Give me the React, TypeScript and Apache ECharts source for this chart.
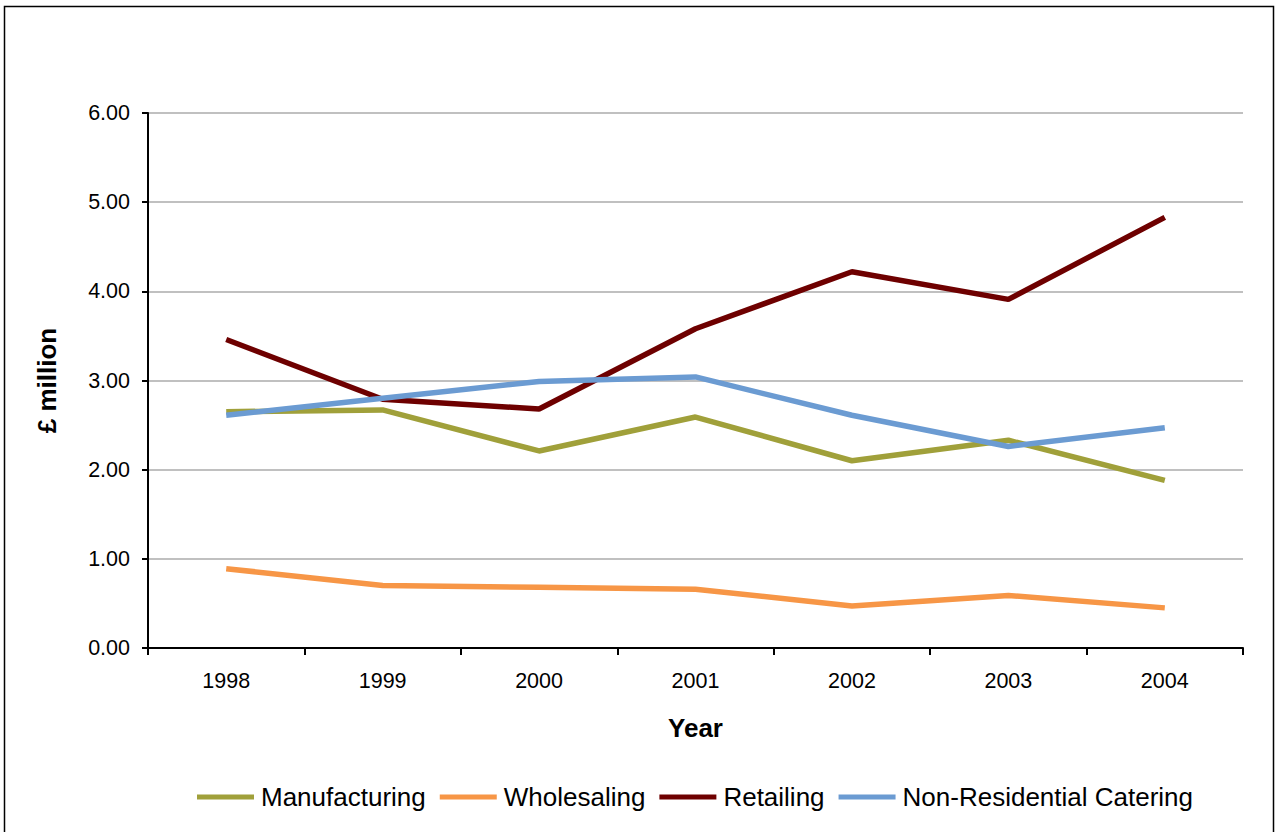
import React, { useEffect, useRef } from "react";
import * as echarts from "echarts";

const years = ["1998", "1999", "2000", "2001", "2002", "2003", "2004"];
const manufacturing = [2.65, 2.67, 2.21, 2.59, 2.10, 2.33, 1.88];
const wholesaling = [0.89, 0.70, 0.68, 0.66, 0.47, 0.59, 0.45];
const retailing = [3.46, 2.79, 2.68, 3.58, 4.22, 3.91, 4.83];
const nonResidential = [2.61, 2.80, 2.99, 3.04, 2.61, 2.26, 2.47];
const seriesNames = ["Manufacturing", "Wholesaling", "Retailing", "Non-Residential Catering"];
const seriesColors = ["#a0a03a", "#f79646", "#6e0000", "#6b9bd2"];

export default function App() {
  const ref = useRef<HTMLDivElement>(null);
  useEffect(() => {
    if (!ref.current) return;
    const chart = echarts.init(ref.current, undefined, { renderer: "svg" });
    const font = "Liberation Sans, Arial, sans-serif";
    const data = [manufacturing, wholesaling, retailing, nonResidential];
    chart.setOption({
      animation: false,
      backgroundColor: "#ffffff",
      textStyle: { fontFamily: font },
      graphic: [
        {
          type: "rect",
          shape: { x: 4.5, y: 6.5, width: 1269, height: 840 },
          style: { fill: "none", stroke: "#000000", lineWidth: 1.5 },
          silent: true,
        },
      ],
      grid: { left: 148, right: 35, top: 113, bottom: 184, containLabel: false },
      legend: {
        left: 197,
        top: 784,
        padding: 0,
        icon: "rect",
        itemWidth: 57,
        itemHeight: 5,
        itemGap: 14,
        textStyle: { fontSize: 26, color: "#000000", fontFamily: font, padding: [0, 0, 0, 2] },
        data: seriesNames,
      },
      xAxis: {
        type: "category",
        data: years,
        boundaryGap: true,
        name: "Year",
        nameLocation: "middle",
        nameGap: 67,
        nameTextStyle: { fontSize: 26, fontWeight: "bold", color: "#000000", fontFamily: font },
        axisLine: { lineStyle: { color: "#000000", width: 2 } },
        axisTick: { show: true, length: 7, inside: false, lineStyle: { color: "#000000", width: 2 } },
        axisLabel: { fontSize: 21.5, color: "#000000", margin: 22, fontFamily: font },
        splitLine: { show: false },
      },
      yAxis: {
        type: "value",
        min: 0,
        max: 6,
        interval: 1,
        name: "£ million",
        nameLocation: "middle",
        nameGap: 88,
        nameRotate: 90,
        nameTextStyle: { fontSize: 26, fontWeight: "bold", color: "#000000", fontFamily: font },
        axisLine: { show: true, lineStyle: { color: "#000000", width: 2 } },
        axisTick: { show: true, length: 6, lineStyle: { color: "#000000", width: 2 } },
        axisLabel: {
          fontSize: 21.5,
          color: "#000000",
          margin: 18,
          fontFamily: font,
          formatter: (v: number) => v.toFixed(2),
        },
        splitLine: { show: true, lineStyle: { color: "#c0c0c0", width: 2 } },
      },
      series: seriesNames.map((name, i) => ({
        name,
        type: "line",
        data: data[i],
        symbol: "none",
        showSymbol: false,
        color: seriesColors[i],
        lineStyle: { width: 5.5, color: seriesColors[i] },
        itemStyle: { color: seriesColors[i] },
      })),
    });
    return () => chart.dispose();
  }, []);
  return (
    <div
      ref={ref}
      style={{ position: "fixed", left: 0, top: 0, width: 1278, height: 832 }}
    />
  );
}
